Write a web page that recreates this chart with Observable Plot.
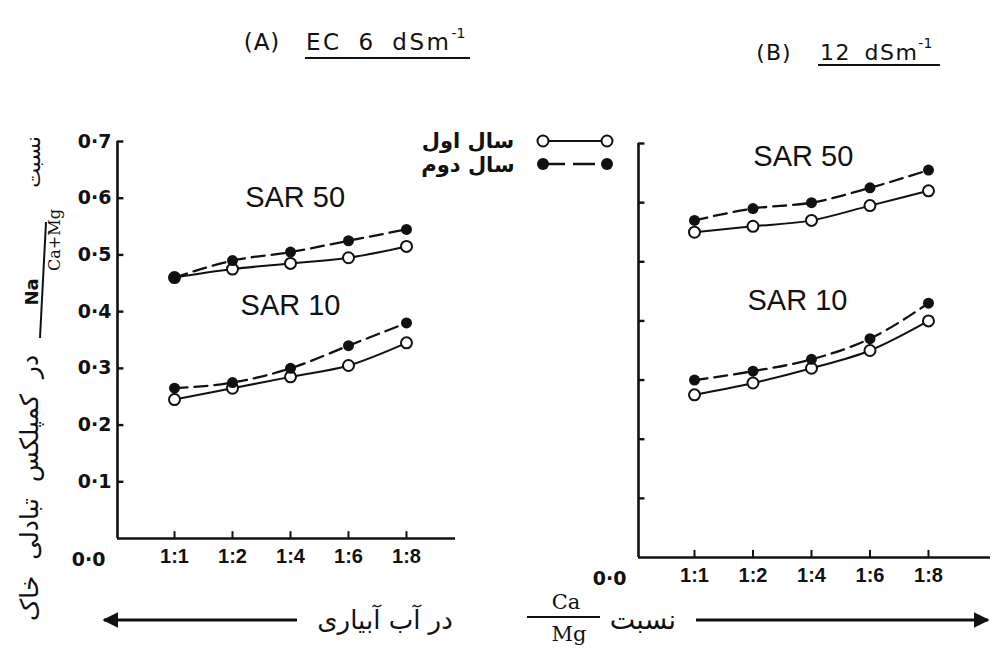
<!DOCTYPE html>
<html lang="fa"><head><meta charset="utf-8">
<script src="https://cdn.jsdelivr.net/npm/d3@7"></script>
<script src="https://cdn.jsdelivr.net/npm/@observablehq/plot@0.6"></script>
<style>
html,body{margin:0;padding:0;background:#fff;}
#root{position:relative;width:992px;height:652px;overflow:hidden;background:#fff;}
.panel{position:absolute;top:0;}
#overlay{position:absolute;left:0;top:0;pointer-events:none;}
</style></head>
<body><div id="root"></div>
<script>
// ---------------- data ----------------
const ratios = ["1:1", "1:2", "1:4", "1:6", "1:8"];           // Ca:Mg ratio in irrigation water
const yearLabels = ["سال اول", "سال دوم"];                     // first year (open), second year (filled)
const sarNames = ["SAR 50", "SAR 10"];
const yTicks = [0, 0.1, 0.2, 0.3, 0.4, 0.5, 0.6, 0.7];

// Panel A : EC 6 dS/m
const a_sar50_year1 = [0.46, 0.475, 0.485, 0.495, 0.515];
const a_sar50_year2 = [0.46, 0.49, 0.505, 0.525, 0.545];
const a_sar10_year1 = [0.245, 0.265, 0.285, 0.305, 0.345];
const a_sar10_year2 = [0.265, 0.275, 0.30, 0.34, 0.38];

// Panel B : EC 12 dS/m
const b_sar50_year1 = [0.55, 0.56, 0.57, 0.595, 0.62];
const b_sar50_year2 = [0.57, 0.59, 0.60, 0.625, 0.655];
const b_sar10_year1 = [0.275, 0.295, 0.32, 0.35, 0.40];
const b_sar10_year2 = [0.30, 0.315, 0.335, 0.37, 0.43];

// ---------------- helpers ----------------
function rowsFor(s50y1, s50y2, s10y1, s10y2) {
  const series = [
    [sarNames[0], yearLabels[0], s50y1], [sarNames[0], yearLabels[1], s50y2],
    [sarNames[1], yearLabels[0], s10y1], [sarNames[1], yearLabels[1], s10y2]
  ];
  const out = [];
  for (const [sar, year, vals] of series)
    vals.forEach((v, i) => out.push({i, ratio: ratios[i], sar, year, v}));
  return out;
}
const fmt = d => d.toFixed(1).replace(".", "·");
const INK = "#111";
const H = 652;

function panel(o) {
  const [x0, x1] = o.xDomain;
  const y1 = o.data.filter(d => d.year === yearLabels[0]);
  const y2 = o.data.filter(d => d.year === yearLabels[1]);
  const idx = d3.range(ratios.length);
  const marks = [
    Plot.ruleY([0], {x1: x0, x2: x1, stroke: INK, strokeWidth: 2.4}),
    Plot.ruleX([x0], {y1: 0, y2: 0.7, stroke: INK, strokeWidth: 2.6}),
    Plot.ruleY(yTicks.filter(t => t > 0), {x1: x0, x2: x0 + o.tickLen, stroke: INK, strokeWidth: 2.4}),
    Plot.ruleX(idx, {y1: 0, y2: 0.012, stroke: INK, strokeWidth: 2}),
    Plot.axisX({ticks: idx, tickFormat: i => ratios[i], tickSize: 0, tickPadding: 10, label: null,
      fontSize: 20, fontWeight: "bold", fontFamily: "Liberation Sans, Arial, sans-serif"}),
    Plot.line(y2, {x: "i", y: "v", z: "sar", curve: "monotone-x", stroke: INK, strokeWidth: 2.3, strokeDasharray: "13,7"}),
    Plot.line(y1, {x: "i", y: "v", z: "sar", curve: "monotone-x", stroke: INK, strokeWidth: 2}),
    Plot.dot(y1, {x: "i", y: "v", r: 5.5, fill: "white", stroke: INK, strokeWidth: 2}),
    Plot.dot(y2, {x: "i", y: "v", r: 5.5, fill: INK}),
    Plot.text(o.sarText, {x: "i", y: "v", text: "label", fontSize: 29,
      fontFamily: "Liberation Sans, Arial, sans-serif", fill: INK}),
    Plot.text([0], {x: x0, y: 0, text: d => fmt(d), textAnchor: "end", dx: -12, dy: 21,
      fontSize: 19, fontWeight: "bold", fontFamily: "DejaVu Sans, sans-serif", fill: INK})
  ];
  if (o.yLabels) marks.push(Plot.axisY({ticks: yTicks.filter(t => t > 0), tickFormat: fmt, tickSize: 0, label: null,
    tickPadding: 6, fontSize: 19, fontWeight: "bold", fontFamily: "DejaVu Sans, sans-serif"}));
  const svg = Plot.plot({
    width: o.width, height: H,
    marginLeft: o.left, marginRight: o.right, marginTop: o.top, marginBottom: o.bottom,
    x: {type: "linear", domain: o.xDomain, label: null},
    y: {domain: [0, 0.7], label: null, axis: o.yLabels ? undefined : null},
    style: {background: "transparent", color: INK, fontFamily: "DejaVu Sans, sans-serif", overflow: "visible"},
    marks
  });
  svg.classList.add("panel");
  svg.style.left = o.offset + "px";
  return svg;
}

const root = document.getElementById("root");

root.appendChild(panel({
  data: rowsFor(a_sar50_year1, a_sar50_year2, a_sar10_year1, a_sar10_year2),
  offset: 0, width: 460, left: 117, right: 5, top: 141, bottom: H - 538,
  xDomain: [-0.983, 4.845], tickLen: 0.11, yLabels: true,
  sarText: [{label: sarNames[0], i: 2.08, v: 0.60}, {label: sarNames[1], i: 2.0, v: 0.41}]
}));

root.appendChild(panel({
  data: rowsFor(b_sar50_year1, b_sar50_year2, b_sar10_year1, b_sar10_year2),
  offset: 520, width: 472, left: 118, right: 2, top: 143, bottom: H - 557,
  xDomain: [-0.957, 5.06], tickLen: 0.11, yLabels: false,
  sarText: [{label: sarNames[0], i: 1.86, v: 0.677}, {label: sarNames[1], i: 1.76, v: 0.435}]
}));

// ---------------- annotation overlay (titles, legend, axis titles) ----------------
const ns = "http://www.w3.org/2000/svg";
const ov = document.createElementNS(ns, "svg");
ov.setAttribute("id", "overlay");
ov.setAttribute("width", 992); ov.setAttribute("height", H);
ov.innerHTML = `
<defs>
  <marker id="ah" viewBox="0 0 10 10" refX="9" refY="5" markerWidth="5" markerHeight="5" orient="auto-start-reverse">
    <path d="M0,0 L10,5 L0,10 z" fill="${INK}"/>
  </marker>
</defs>
<g fill="${INK}" font-family="DejaVu Sans, sans-serif">
  <text x="262" y="50" font-size="23" text-anchor="middle" letter-spacing="1">(A)</text>
  <text x="306" y="50" font-size="23" letter-spacing="2.5" word-spacing="7">EC 6 dSm<tspan dy="-12" font-size="14" letter-spacing="0">-1</tspan></text>
  <line x1="305" y1="58" x2="470" y2="58" stroke="${INK}" stroke-width="2.2"/>
  <text x="774" y="60" font-size="22" text-anchor="middle" letter-spacing="1">(B)</text>
  <text x="820" y="60" font-size="22" letter-spacing="1.5" word-spacing="5">12 dSm<tspan dy="-12" font-size="14" letter-spacing="0">-1</tspan></text>
  <line x1="818" y1="65" x2="940" y2="65" stroke="${INK}" stroke-width="2.2"/>

  <text x="468" y="148" font-size="21" font-weight="bold" text-anchor="middle">${yearLabels[0]}</text>
  <text x="468" y="172" font-size="21" font-weight="bold" text-anchor="middle">${yearLabels[1]}</text>
  <line x1="543" y1="141" x2="607" y2="141" stroke="${INK}" stroke-width="2"/>
  <circle cx="543" cy="141" r="5.5" fill="white" stroke="${INK}" stroke-width="2"/>
  <circle cx="607" cy="141" r="5.5" fill="white" stroke="${INK}" stroke-width="2"/>
  <line x1="543" y1="164" x2="607" y2="164" stroke="${INK}" stroke-width="2.3" stroke-dasharray="22,8"/>
  <circle cx="543" cy="164" r="6" fill="${INK}"/>
  <circle cx="607" cy="164" r="6" fill="${INK}"/>

  <text transform="translate(40,162) rotate(-90)" font-size="21" text-anchor="middle">نسبت</text>
  <text transform="translate(38,292) rotate(-90)" font-size="18" font-weight="bold" text-anchor="middle">Na</text>
  <line x1="40" y1="338" x2="46" y2="222" stroke="${INK}" stroke-width="2"/>
  <text transform="translate(60,240) rotate(-90)" font-size="16" font-family="DejaVu Serif, serif" text-anchor="middle">Ca+Mg</text>
  <text transform="translate(38,488) rotate(-90)" font-size="25" word-spacing="8" text-anchor="middle">در کمپلکس تبادلی خاک</text>

  <line x1="297" y1="620" x2="104" y2="620" stroke="${INK}" stroke-width="3.2" marker-end="url(#ah)"/>
  <text x="385" y="629" font-size="26" text-anchor="middle">در آب آبیاری</text>
  <text x="566" y="609" font-size="21" font-family="DejaVu Serif, serif" text-anchor="middle">Ca</text>
  <line x1="527" y1="617" x2="600" y2="617" stroke="${INK}" stroke-width="1.8"/>
  <text x="569" y="641" font-size="21" font-family="DejaVu Serif, serif" text-anchor="middle">Mg</text>
  <text x="643" y="629" font-size="27" text-anchor="middle">نسبت</text>
  <line x1="696" y1="620" x2="988" y2="620" stroke="${INK}" stroke-width="3.2" marker-end="url(#ah)"/>
</g>`;
root.appendChild(ov);
</script>
</body></html>
